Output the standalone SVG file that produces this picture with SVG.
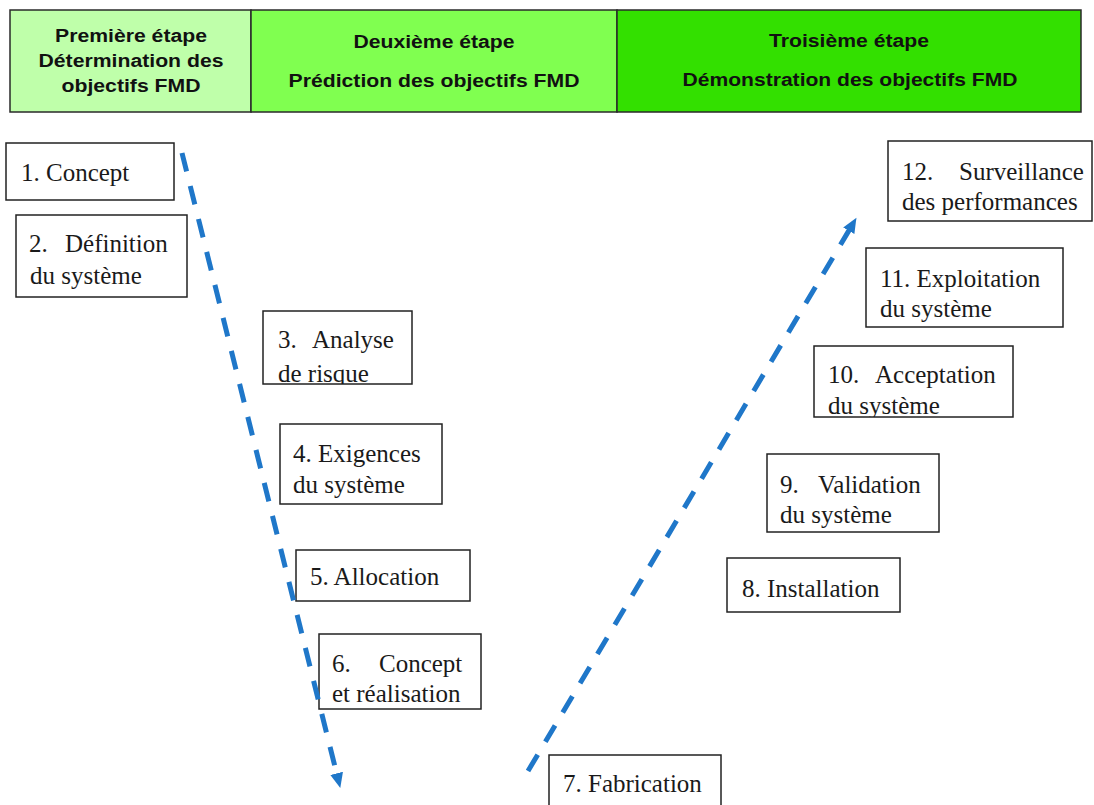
<svg xmlns="http://www.w3.org/2000/svg" width="1094" height="805" viewBox="0 0 1094 805">
<style>
.hdr{stroke:#2a2a2a;stroke-width:1.5}
.ht{font-family:"Liberation Sans",Arial,sans-serif;font-weight:bold;font-size:18.7px;fill:#111;text-anchor:middle}
.box{fill:#fff;stroke:#222;stroke-width:1.5}
.t{font-family:"Liberation Serif","Times New Roman",serif;font-size:25px;fill:#1a1a1a}
.flow{fill:none;stroke:#1f77c9;stroke-width:5;stroke-dasharray:19 15}
</style>
<defs>
<marker id="ah" markerUnits="userSpaceOnUse" markerWidth="18" markerHeight="18" viewBox="0 -9 18 18" refX="1" refY="0" orient="auto">
<path d="M0,-6.5 L15,0 L0,6.5 z" fill="#1f77c9"/>
</marker>
<clipPath id="c3"><rect x="263" y="311" width="149" height="73"/></clipPath>
<clipPath id="c10"><rect x="814" y="346" width="199" height="71"/></clipPath>
</defs>
<rect width="1094" height="805" fill="#fff"/>
<g id="header">
<rect class="hdr" x="10" y="10" width="241" height="102" fill="#bfffaa"/>
<rect class="hdr" x="251" y="10" width="366" height="102" fill="#80ff50"/>
<rect class="hdr" x="617" y="10" width="464" height="102" fill="#33e000"/>
<text class="ht" x="131" y="42" textLength="152" lengthAdjust="spacingAndGlyphs">Première étape</text>
<text class="ht" x="131" y="67" textLength="185" lengthAdjust="spacingAndGlyphs">Détermination des</text>
<text class="ht" x="131" y="92" textLength="139" lengthAdjust="spacingAndGlyphs">objectifs FMD</text>
<text class="ht" x="434" y="48" textLength="161" lengthAdjust="spacingAndGlyphs">Deuxième étape</text>
<text class="ht" x="434" y="87" textLength="291" lengthAdjust="spacingAndGlyphs">Prédiction des objectifs FMD</text>
<text class="ht" x="849" y="47" textLength="160" lengthAdjust="spacingAndGlyphs">Troisième étape</text>
<text class="ht" x="850" y="86" textLength="335" lengthAdjust="spacingAndGlyphs">Démonstration des objectifs FMD</text>
</g>
<g id="n1"><rect class="box" x="6" y="143" width="168" height="57"/><text class="t" x="21" y="181">1. Concept</text></g>
<g id="n2"><rect class="box" x="16" y="215" width="171" height="82"/><text class="t" y="252"><tspan x="29">2. </tspan><tspan x="65">Définition</tspan></text><text class="t" x="30" y="284">du système</text></g>
<g id="n3"><rect class="box" x="263" y="311" width="149" height="73"/><g clip-path="url(#c3)"><text class="t" y="348"><tspan x="278">3. </tspan><tspan x="312">Analyse</tspan></text><text class="t" x="278" y="382">de risque</text></g></g>
<g id="n4"><rect class="box" x="280" y="424" width="162" height="80"/><text class="t" x="293" y="462">4. Exigences</text><text class="t" x="293" y="493">du système</text></g>
<g id="n5"><rect class="box" x="296" y="550" width="174" height="51"/><text class="t" x="310" y="585">5. Allocation</text></g>
<g id="n6"><rect class="box" x="319" y="634" width="162" height="75"/><text class="t" y="672"><tspan x="332">6. </tspan><tspan x="379">Concept</tspan></text><text class="t" x="332" y="702">et réalisation</text></g>
<g id="n7"><rect class="box" x="549" y="755" width="172" height="60"/><text class="t" x="563" y="792">7. Fabrication</text></g>
<g id="n8"><rect class="box" x="727" y="558" width="173" height="54"/><text class="t" x="742" y="597">8. Installation</text></g>
<g id="n9"><rect class="box" x="767" y="454" width="172" height="78"/><text class="t" y="493"><tspan x="780">9. </tspan><tspan x="818">Validation</tspan></text><text class="t" x="780" y="523">du système</text></g>
<g id="n10"><rect class="box" x="814" y="346" width="199" height="71"/><g clip-path="url(#c10)"><text class="t" y="383"><tspan x="828">10. </tspan><tspan x="875">Acceptation</tspan></text><text class="t" x="828" y="414">du système</text></g></g>
<g id="n11"><rect class="box" x="866" y="248" width="197" height="79"/><text class="t" x="880" y="287">11. Exploitation</text><text class="t" x="880" y="317">du système</text></g>
<g id="n12"><rect class="box" x="888" y="141" width="204" height="80"/><text class="t" y="180"><tspan x="902">12. </tspan><tspan x="959">Surveillance</tspan></text><text class="t" x="902" y="210">des performances</text></g>
<g id="connectors">
<path class="flow" d="M182,153 L336.9,774.4" marker-end="url(#ah)"/>
<path class="flow" d="M528,771 L849.3,229.9" marker-end="url(#ah)"/>
</g>
</svg>
